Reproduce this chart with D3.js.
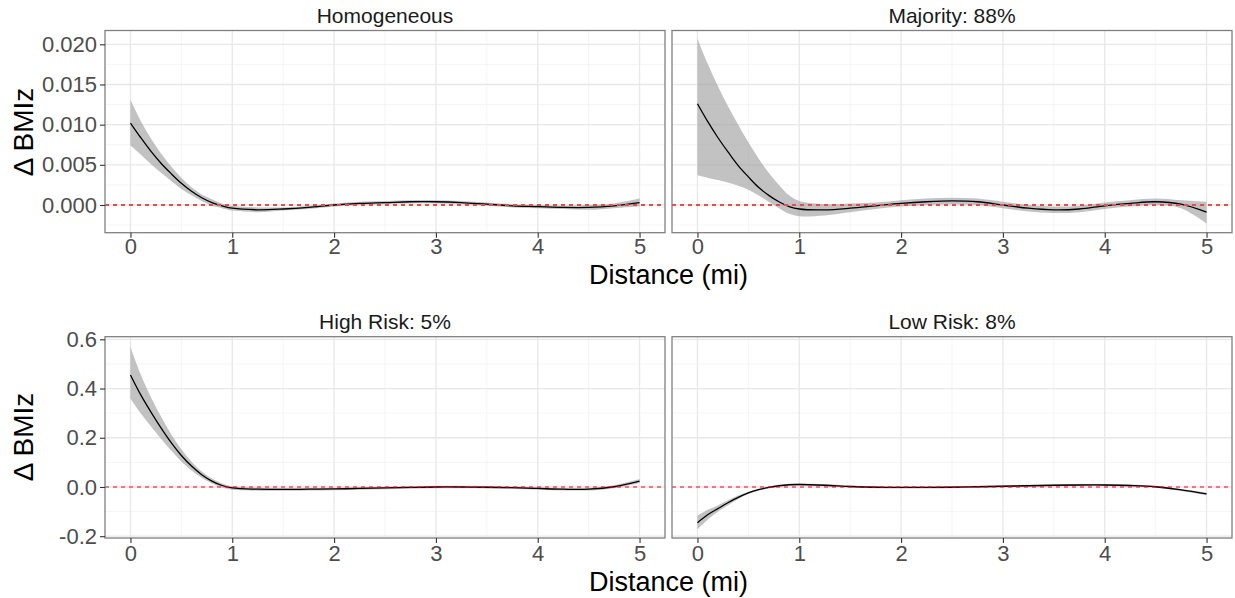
<!DOCTYPE html>
<html>
<head>
<meta charset="utf-8">
<script src="https://cdn.jsdelivr.net/npm/d3@7"></script>
<style>
  html, body { margin: 0; padding: 0; background: #fff; }
  svg { display: block; font-family: "Liberation Sans", Arial, Helvetica, sans-serif; }
</style>
</head>
<body>
<svg id="chart" width="1235" height="598"></svg>
<script>
// ---------------- data ----------------
const distance = [0,0.1,0.2,0.3,0.4,0.5,0.6,0.7,0.8,0.9,1.0,1.25,1.5,1.75,2.0,2.25,2.5,2.75,3.0,3.25,3.5,3.75,4.0,4.25,4.5,4.75,5.0];

const panelTitles = ["Homogeneous", "Majority: 88%", "High Risk: 5%", "Low Risk: 8%"];

const homoEst = [0.0102,0.0084,0.0067,0.0052,0.0039,0.0027,0.0017,0.0009,0.0003,-0.0001,-0.0004,-0.0006,-0.0005,-0.0003,0.0000,0.0002,0.0003,0.0004,0.0004,0.0003,0.0001,-0.0001,-0.0002,-0.0003,-0.0003,-0.0001,0.0003];
const homoLo  = [0.0074,0.0063,0.0051,0.0040,0.0030,0.0020,0.0012,0.0005,-0.0001,-0.0004,-0.0007,-0.0009,-0.0007,-0.0005,-0.0002,0.0000,0.0001,0.0002,0.0002,0.0001,-0.0001,-0.0003,-0.0004,-0.0005,-0.0006,-0.0004,-0.0002];
const homoHi  = [0.0131,0.0105,0.0083,0.0064,0.0048,0.0034,0.0022,0.0013,0.0007,0.0002,-0.0001,-0.0003,-0.0003,-0.0001,0.0002,0.0004,0.0005,0.0006,0.0006,0.0005,0.0003,0.0001,0.0000,-0.0001,0.0000,0.0002,0.0008];

const majEst = [0.0126,0.0104,0.0084,0.0066,0.0049,0.0035,0.0022,0.0012,0.0004,-0.0002,-0.0005,-0.0006,-0.0004,-0.0001,0.0002,0.0004,0.0005,0.0004,0.0000,-0.0004,-0.0006,-0.0005,-0.0001,0.0002,0.0004,0.0001,-0.0009];
const majLo  = [0.0037,0.0034,0.0031,0.0028,0.0024,0.0019,0.0012,0.0004,-0.0004,-0.0011,-0.0014,-0.0013,-0.0009,-0.0005,-0.0002,0.0000,0.0001,0.0000,-0.0004,-0.0008,-0.0010,-0.0009,-0.0005,-0.0002,0.0000,-0.0004,-0.0023];
const majHi  = [0.0207,0.0176,0.0148,0.0123,0.0100,0.0078,0.0058,0.0040,0.0025,0.0012,0.0005,0.0001,0.0002,0.0003,0.0006,0.0008,0.0009,0.0008,0.0004,0.0000,-0.0002,-0.0001,0.0003,0.0006,0.0008,0.0006,0.0004];

const highEst = [0.455,0.375,0.305,0.240,0.180,0.128,0.085,0.050,0.024,0.006,-0.004,-0.009,-0.010,-0.009,-0.008,-0.006,-0.004,-0.002,0.000,0.000,-0.001,-0.003,-0.006,-0.009,-0.009,0.001,0.024];
const highLo  = [0.360,0.300,0.247,0.196,0.148,0.104,0.067,0.037,0.014,-0.002,-0.011,-0.015,-0.015,-0.014,-0.013,-0.011,-0.009,-0.007,-0.005,-0.005,-0.006,-0.008,-0.011,-0.014,-0.014,-0.005,0.016];
const highHi  = [0.570,0.458,0.366,0.286,0.214,0.153,0.103,0.063,0.034,0.014,0.003,-0.003,-0.005,-0.004,-0.003,-0.001,0.001,0.003,0.005,0.005,0.004,0.002,-0.001,-0.004,-0.004,0.007,0.032];

const lowEst = [-0.145,-0.113,-0.088,-0.064,-0.042,-0.024,-0.011,-0.002,0.005,0.009,0.010,0.007,0.002,-0.001,-0.002,-0.002,-0.001,0.001,0.003,0.005,0.007,0.008,0.008,0.006,0.001,-0.012,-0.028];
const lowLo  = [-0.172,-0.133,-0.101,-0.074,-0.049,-0.029,-0.015,-0.006,0.001,0.005,0.006,0.003,-0.002,-0.005,-0.006,-0.006,-0.005,-0.003,-0.001,0.001,0.003,0.004,0.004,0.002,-0.003,-0.016,-0.033];
const lowHi  = [-0.117,-0.093,-0.075,-0.054,-0.035,-0.019,-0.007,0.002,0.009,0.013,0.014,0.011,0.006,0.003,0.002,0.002,0.003,0.005,0.007,0.009,0.011,0.012,0.012,0.010,0.005,-0.008,-0.023];

const xTicks = [0,1,2,3,4,5];
const xTickLabels = ["0","1","2","3","4","5"];
const xMinor = [0.5,1.5,2.5,3.5,4.5];
const yTicksTop = [0,0.005,0.010,0.015,0.020];
const yTickLabelsTop = ["0.000","0.005","0.010","0.015","0.020"];
const yMinorTop = [-0.0025,0.0025,0.0075,0.0125,0.0175];
const yTicksBottom = [-0.2,0,0.2,0.4,0.6];
const yTickLabelsBottom = ["-0.2","0.0","0.2","0.4","0.6"];
const yMinorBottom = [-0.1,0.1,0.3,0.5];
const xTitle = "Distance (mi)";
const yTitle = "\u0394 BMIz";

// ---------------- layout ----------------
const svg = d3.select("#chart");
const colX = [[105, 665], [672, 1232]];
const rows = [
  { top: 30.5, bottom: 232.7, domain: [-0.00345, 0.02172], ticks: yTicksTop, labels: yTickLabelsTop, minor: yMinorTop,
    dash: { color: "#f24848", width: 2 }, titleY: 23, tickLabelY: 254, xTitleY: 284, yTitleY: 132,
    series: [[homoEst, homoLo, homoHi], [majEst, majLo, majHi]], titles: [panelTitles[0], panelTitles[1]] },
  { top: 336.7, bottom: 538, domain: [-0.2073, 0.6106], ticks: yTicksBottom, labels: yTickLabelsBottom, minor: yMinorBottom,
    dash: { color: "#ff0000", width: 1.2 }, titleY: 329, tickLabelY: 561, xTitleY: 591, yTitleY: 437,
    series: [[highEst, highLo, highHi], [lowEst, lowLo, lowHi]], titles: [panelTitles[2], panelTitles[3]] }
];

rows.forEach((row, ri) => {
  const y = d3.scaleLinear().domain(row.domain).range([row.bottom, row.top]);
  colX.forEach((cx, ci) => {
    const x = d3.scaleLinear().domain([-0.25, 5.25]).range(cx);
    const g = svg.append("g");
    const clipId = `clip-${ri}-${ci}`;
    g.append("clipPath").attr("id", clipId).append("rect")
      .attr("x", cx[0]).attr("y", row.top).attr("width", cx[1] - cx[0]).attr("height", row.bottom - row.top);

    // minor grid
    g.selectAll(".xminor").data(xMinor).join("line")
      .attr("x1", d => x(d)).attr("x2", d => x(d)).attr("y1", row.top).attr("y2", row.bottom)
      .attr("stroke", "#f2f2f2").attr("stroke-width", 0.8);
    g.selectAll(".yminor").data(row.minor).join("line")
      .attr("y1", d => y(d)).attr("y2", d => y(d)).attr("x1", cx[0]).attr("x2", cx[1])
      .attr("stroke", "#f2f2f2").attr("stroke-width", 0.8);
    // major grid
    g.selectAll(".xmajor").data(xTicks).join("line")
      .attr("x1", d => x(d)).attr("x2", d => x(d)).attr("y1", row.top).attr("y2", row.bottom)
      .attr("stroke", "#e8e8e8").attr("stroke-width", 1.3);
    g.selectAll(".ymajor").data(row.ticks).join("line")
      .attr("y1", d => y(d)).attr("y2", d => y(d)).attr("x1", cx[0]).attr("x2", cx[1])
      .attr("stroke", "#e8e8e8").attr("stroke-width", 1.3);

    // ribbon + line
    const [est, lo, hi] = row.series[ci];
    const pts = distance.map((d, i) => ({ d, est: est[i], lo: lo[i], hi: hi[i] }));
    const plot = g.append("g").attr("clip-path", `url(#${clipId})`);
    plot.append("path").datum(pts)
      .attr("d", d3.area().x(p => x(p.d)).y0(p => y(p.lo)).y1(p => y(p.hi)).curve(d3.curveCatmullRom.alpha(0.5)))
      .attr("fill", "#999999").attr("fill-opacity", 0.6);
    plot.append("path").datum(pts)
      .attr("d", d3.line().x(p => x(p.d)).y(p => y(p.est)).curve(d3.curveCatmullRom.alpha(0.5)))
      .attr("fill", "none").attr("stroke", "#000").attr("stroke-width", 1.3);

    // reference line at 0
    plot.append("line").attr("x1", cx[0]).attr("x2", cx[1]).attr("y1", y(0)).attr("y2", y(0))
      .attr("stroke", row.dash.color).attr("stroke-width", row.dash.width).attr("stroke-dasharray", "4,4");

    // border
    g.append("rect").attr("x", cx[0]).attr("y", row.top).attr("width", cx[1] - cx[0]).attr("height", row.bottom - row.top)
      .attr("fill", "none").attr("stroke", "#808080").attr("stroke-width", 1.3);

    // x axis
    const xa = g.append("g").attr("transform", `translate(0,${row.bottom})`)
      .call(d3.axisBottom(x).tickValues(xTicks).tickFormat((d, i) => xTickLabels[i]).tickSize(5).tickPadding(4));
    xa.select(".domain").remove();
    xa.selectAll(".tick line").attr("stroke", "#333").attr("stroke-width", 1.1);
    xa.selectAll(".tick text").attr("fill", "#4d4d4d").attr("font-size", 22).attr("dy", null)
      .attr("y", row.tickLabelY - row.bottom);

    // y axis (left column only)
    if (ci === 0) {
      const ya = g.append("g").attr("transform", `translate(${cx[0]},0)`)
        .call(d3.axisLeft(y).tickValues(row.ticks).tickFormat((d, i) => row.labels[i]).tickSize(5).tickPadding(3));
      ya.select(".domain").remove();
      ya.selectAll(".tick line").attr("stroke", "#333").attr("stroke-width", 1.1);
      ya.selectAll(".tick text").attr("fill", "#4d4d4d").attr("font-size", 22).attr("font-family", "Liberation Sans, Arial, sans-serif");
    }

    // strip title
    g.append("text").attr("x", (cx[0] + cx[1]) / 2).attr("y", row.titleY)
      .attr("text-anchor", "middle").attr("font-size", 21).attr("fill", "#1a1a1a").text(row.titles[ci]);
  });

  // x title
  svg.append("text").attr("x", (colX[0][0] + colX[1][1]) / 2).attr("y", row.xTitleY)
    .attr("text-anchor", "middle").attr("font-size", 27).attr("fill", "#000").text(xTitle);
  // y title
  svg.append("text").attr("transform", `translate(33,${row.yTitleY}) rotate(-90)`)
    .attr("text-anchor", "middle").attr("font-size", 28).attr("fill", "#000").text(yTitle);
});
</script>
</body>
</html>
